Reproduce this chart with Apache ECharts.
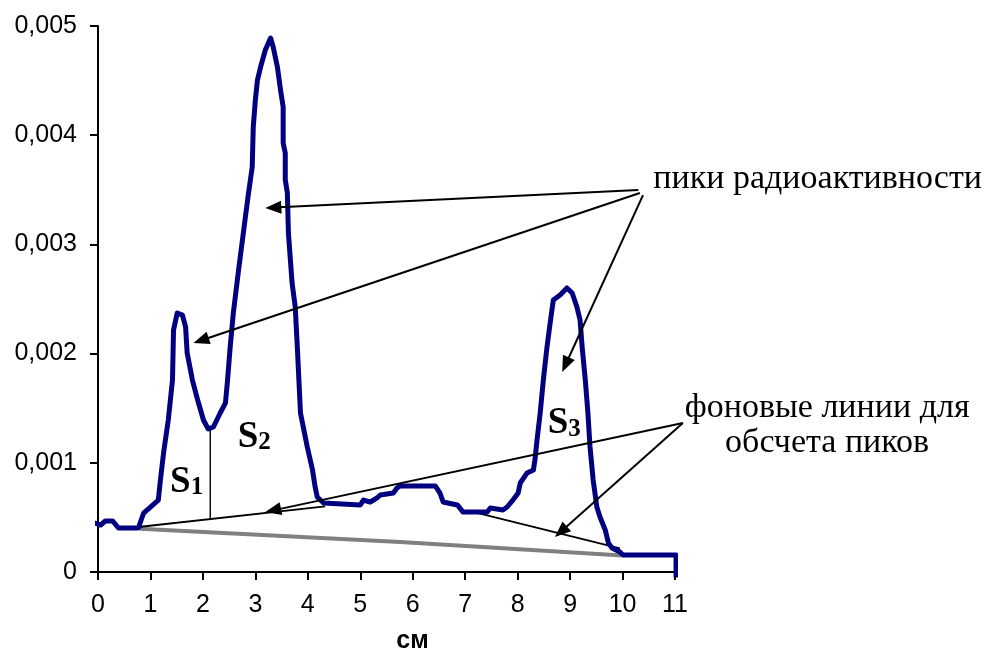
<!DOCTYPE html>
<html>
<head>
<meta charset="utf-8">
<script src="https://cdn.jsdelivr.net/npm/echarts@6/dist/echarts.min.js"></script>
<style>html,body{margin:0;padding:0;background:#fff}#chart{width:986px;height:666px}</style>
</head>
<body>
<div id="chart"></div>
<script>
// ---- data ----
const xTicks = [0,1,2,3,4,5,6,7,8,9,10,11];
const positionCm = [-0.18,0.05,0.14,0.28,0.39,0.77,0.87,1.00,1.15,1.19,1.25,1.34,1.42,1.44,1.51,1.61,1.67,1.70,1.80,1.90,2.01,2.10,2.20,2.33,2.43,2.47,2.52,2.58,2.68,2.81,2.87,2.94,2.96,3.00,3.04,3.10,3.19,3.29,3.34,3.42,3.48,3.53,3.53,3.57,3.57,3.61,3.63,3.70,3.76,3.80,3.86,3.99,4.09,4.14,4.18,4.30,5.00,5.06,5.19,5.32,5.38,5.63,5.70,5.76,6.43,6.52,6.58,6.85,6.96,7.42,7.48,7.72,7.80,7.91,8.01,8.05,8.18,8.30,8.33,8.37,8.43,8.49,8.56,8.62,8.68,8.81,8.94,9.04,9.13,9.19,9.23,9.29,9.34,9.38,9.44,9.51,9.57,9.67,9.73,9.80,9.95,10.01,11.02,11.02];
const activity = [0.000467,0.000430,0.000467,0.000467,0.000403,0.000403,0.000540,0.000595,0.000659,0.000842,0.001090,0.001392,0.001758,0.002216,0.002372,0.002353,0.002244,0.002005,0.001758,0.001575,0.001392,0.001310,0.001328,0.001456,0.001548,0.001758,0.002060,0.002372,0.002766,0.003251,0.003471,0.003709,0.004075,0.004322,0.004505,0.004625,0.004780,0.004890,0.004808,0.004625,0.004414,0.004258,0.003929,0.003837,0.003590,0.003471,0.003104,0.002647,0.002427,0.002060,0.001456,0.001145,0.000934,0.000778,0.000687,0.000632,0.000614,0.000659,0.000641,0.000678,0.000705,0.000723,0.000769,0.000788,0.000788,0.000723,0.000641,0.000614,0.000549,0.000549,0.000586,0.000568,0.000595,0.000659,0.000723,0.000815,0.000907,0.000934,0.001026,0.001209,0.001456,0.001758,0.002060,0.002280,0.002491,0.002537,0.002601,0.002555,0.002427,0.002308,0.002060,0.001758,0.001456,0.001145,0.000842,0.000595,0.000504,0.000385,0.000266,0.000220,0.000183,0.000156,0.000156,-0.00005];
const backgroundX = [0.80, 5.76, 10.00];
const backgroundY = [0.000395, 0.000275, 0.000150];
const baseline12X = [0.77, 4.33];
const baseline12Y = [0.000412, 0.000600];
const baseline3X = [7.13, 9.95];
const baseline3Y = [0.000552, 0.000217];
const splitX = [2.14, 2.14];
const splitY = [0.001310, 0.000495];
// arrows: [fromX, fromY, toX, toY]
const peakArrows = [[10.30,0.003498,3.19,0.003333],[10.33,0.003471,1.82,0.002097],[10.39,0.003452,8.85,0.001832]];
const bgArrows = [[11.15,0.001364,3.19,0.000549],[11.15,0.001364,8.71,0.000320]];
const noteTexts = ['пики радиоактивности', 'фоновые линии для\nобсчета пиков'];
const noteAnchors = [[13.72,0.003600],[13.90,0.001340]];
const areaIndex = ['1','2','3'];
const areaAnchors = [[1.69,0.000824],[2.98,0.001236],[8.89,0.001364]];

const zip = (a,b) => a.map((v,i)=>[v,b[i]]);
const thinLine = (name, xs, ys, w) => ({
  name, type:'line', data: zip(xs,ys), symbol:'none', clip:false, silent:true, z:3,
  lineStyle:{color:'#000', width:w}
});

const chart = echarts.init(document.getElementById('chart'), null, {renderer:'canvas'});
const option = {
  animation:false,
  backgroundColor:'#fff',
  grid:{left:98, right:311, top:26, bottom:94, containLabel:false, outerBoundsMode:'none'},
  xAxis:{
    type:'value', min:0, max:11, interval:1,
    axisLine:{lineStyle:{color:'#000', width:2}},
    axisTick:{show:true, length:8, lineStyle:{color:'#000', width:2}},
    splitLine:{show:false},
    axisLabel:{color:'#000', fontSize:25, fontFamily:'Liberation Sans', margin:21,
      formatter:v => xTicks.includes(v) ? String(v) : ''},
    name:'см', nameLocation:'middle', nameGap:57,
    nameTextStyle:{color:'#000', fontSize:25, fontWeight:'bold', fontFamily:'Liberation Sans', padding:[0,0,0,52]}
  },
  yAxis:{
    type:'value', min:0, max:0.005, interval:0.001,
    axisLine:{show:true, lineStyle:{color:'#000', width:2}},
    axisTick:{show:true, length:8, lineStyle:{color:'#000', width:2}},
    splitLine:{show:false},
    axisLabel:{color:'#000', fontSize:25, fontFamily:'Liberation Sans', margin:21,
      formatter:v => Math.abs(v) < 1e-12 ? '0' : v.toFixed(3).replace('.', ',')}
  },
  series:[
    {name:'background', type:'line', data: zip(backgroundX, backgroundY), symbol:'none', clip:false, z:2,
      lineStyle:{color:'#808080', width:4}},
    {name:'activity', type:'line', data: zip(positionCm, activity), symbol:'none', clip:false, z:4,
      lineStyle:{color:'#000080', width:5, join:'round'}},
    thinLine('baseline12', baseline12X, baseline12Y, 1.8),
    thinLine('baseline3', baseline3X, baseline3Y, 1.8),
    thinLine('split', splitX, splitY, 1.4),
    {name:'arrows', type:'custom', clip:false, z:5, silent:true,
      data: peakArrows.concat(bgArrows),
      encode:{x:[0,2], y:[1,3]},
      renderItem:(params, api) => {
        const p0 = api.coord([api.value(0), api.value(1)]);
        const p1 = api.coord([api.value(2), api.value(3)]);
        const dx = p1[0]-p0[0], dy = p1[1]-p0[1];
        const len = Math.hypot(dx,dy), ux = dx/len, uy = dy/len;
        const L = 16, W = 6.5;
        const b = [p1[0]-ux*L, p1[1]-uy*L];
        return {type:'group', children:[
          {type:'line', shape:{x1:p0[0], y1:p0[1], x2:b[0]+ux*2, y2:b[1]+uy*2}, style:{stroke:'#000', lineWidth:2}},
          {type:'polygon', shape:{points:[p1, [b[0]-uy*W, b[1]+ux*W], [b[0]+uy*W, b[1]-ux*W]]}, style:{fill:'#000'}}
        ]};
      }},
    {name:'notes', type:'custom', clip:false, z:6, silent:true,
      data: noteAnchors.map((a,i)=>[a[0], a[1], i]),
      encode:{x:0, y:1},
      renderItem:(params, api) => {
        const p = api.coord([api.value(0), api.value(1)]);
        return {type:'text', x:p[0], y:p[1], style:{
          text: noteTexts[api.value(2)], fill:'#000', fontSize:34, fontFamily:'Liberation Serif',
          align:'center', verticalAlign:'middle', lineHeight:35}};
      }},
    {name:'areas', type:'custom', clip:false, z:6, silent:true,
      data: areaAnchors.map((a,i)=>[a[0], a[1], i]),
      encode:{x:0, y:1},
      renderItem:(params, api) => {
        const p = api.coord([api.value(0), api.value(1)]);
        return {type:'text', x:p[0], y:p[1], style:{
          text: '{s|S}{n|' + areaIndex[api.value(2)] + '}', fill:'#000',
          align:'center', verticalAlign:'middle',
          rich:{
            s:{fontSize:37, fontWeight:'bold', fontFamily:'Liberation Serif', fill:'#000'},
            n:{fontSize:25, fontWeight:'bold', fontFamily:'Liberation Serif', fill:'#000', verticalAlign:'bottom'}
          }}};
      }}
  ]
};
chart.setOption(option);
</script>
</body>
</html>
